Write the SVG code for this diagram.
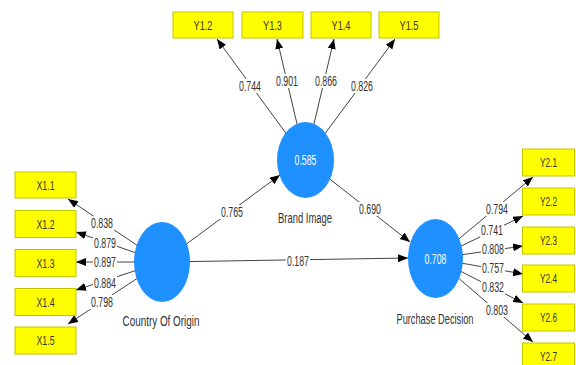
<svg xmlns="http://www.w3.org/2000/svg" width="576" height="365" viewBox="0 0 576 365">
<style>
.ln{stroke:#444;stroke-width:1;fill:none;marker-end:url(#ah)}
.bx{fill:#ffff00;stroke:#c4c400;stroke-width:1}
.bt{font-family:"Liberation Sans",Arial,sans-serif;font-size:13px;fill:#333;text-anchor:middle}
.lb{font-family:"Liberation Sans",Arial,sans-serif;font-size:14px;fill:#333;text-anchor:middle}
.lbg{fill:#fff}
.cv{fill:#1e90ff}
.ct{font-family:"Liberation Sans",Arial,sans-serif;font-size:14px;fill:#fff;text-anchor:middle}
.nt{font-family:"Liberation Sans",Arial,sans-serif;font-size:14px;fill:#333;text-anchor:middle}
</style>
<defs>
<marker id="ah" markerUnits="userSpaceOnUse" markerWidth="11" markerHeight="9" refX="10" refY="4" orient="auto">
<path d="M0,0 L10,4 L0,8 Z" fill="#000"/>
</marker>
</defs>
<rect width="576" height="365" fill="#fff"/>
<g id="connectors">
<line class="ln" x1="305.5" y1="160" x2="217" y2="39"/>
<line class="ln" x1="305.5" y1="160" x2="277" y2="39"/>
<line class="ln" x1="305.5" y1="160" x2="334" y2="39"/>
<line class="ln" x1="305.5" y1="160" x2="395" y2="39"/>
<line class="ln" x1="162" y1="262" x2="68" y2="199"/>
<line class="ln" x1="162" y1="262" x2="76" y2="232"/>
<line class="ln" x1="162" y1="262" x2="76" y2="262"/>
<line class="ln" x1="162" y1="262" x2="76" y2="290"/>
<line class="ln" x1="162" y1="262" x2="68" y2="324"/>
<line class="ln" x1="435.5" y1="258.5" x2="533" y2="177"/>
<line class="ln" x1="435.5" y1="258.5" x2="523" y2="216"/>
<line class="ln" x1="435.5" y1="258.5" x2="523" y2="246"/>
<line class="ln" x1="435.5" y1="258.5" x2="523" y2="274"/>
<line class="ln" x1="435.5" y1="258.5" x2="523" y2="303"/>
<line class="ln" x1="435.5" y1="258.5" x2="533" y2="342"/>
<line class="ln" x1="162" y1="262" x2="280" y2="175"/>
<line class="ln" x1="305.5" y1="160" x2="410" y2="242"/>
<line class="ln" x1="162" y1="262" x2="408" y2="258"/>
<g id="labels">
<rect class="lbg" x="238" y="79" width="24" height="14"/><text class="lb" x="250" y="91" textLength="22" lengthAdjust="spacingAndGlyphs">0.744</text>
<rect class="lbg" x="275" y="74" width="24" height="14"/><text class="lb" x="287" y="86" textLength="22" lengthAdjust="spacingAndGlyphs">0.901</text>
<rect class="lbg" x="314" y="74" width="24" height="14"/><text class="lb" x="326" y="86" textLength="22" lengthAdjust="spacingAndGlyphs">0.866</text>
<rect class="lbg" x="350" y="79" width="24" height="14"/><text class="lb" x="362" y="91" textLength="22" lengthAdjust="spacingAndGlyphs">0.826</text>
<rect class="lbg" x="90" y="216" width="24" height="14"/><text class="lb" x="102" y="228" textLength="22" lengthAdjust="spacingAndGlyphs">0.838</text>
<rect class="lbg" x="93" y="236" width="24" height="14"/><text class="lb" x="105" y="248" textLength="22" lengthAdjust="spacingAndGlyphs">0.879</text>
<rect class="lbg" x="93" y="255" width="24" height="14"/><text class="lb" x="105" y="267" textLength="22" lengthAdjust="spacingAndGlyphs">0.897</text>
<rect class="lbg" x="93" y="276" width="24" height="14"/><text class="lb" x="105" y="288" textLength="22" lengthAdjust="spacingAndGlyphs">0.884</text>
<rect class="lbg" x="90" y="295" width="24" height="14"/><text class="lb" x="102" y="307" textLength="22" lengthAdjust="spacingAndGlyphs">0.798</text>
<rect class="lbg" x="485" y="202" width="24" height="14"/><text class="lb" x="497" y="214" textLength="22" lengthAdjust="spacingAndGlyphs">0.794</text>
<rect class="lbg" x="480" y="223" width="24" height="14"/><text class="lb" x="492" y="235" textLength="22" lengthAdjust="spacingAndGlyphs">0.741</text>
<rect class="lbg" x="481" y="242" width="24" height="14"/><text class="lb" x="493" y="254" textLength="22" lengthAdjust="spacingAndGlyphs">0.808</text>
<rect class="lbg" x="481" y="261" width="24" height="14"/><text class="lb" x="493" y="273" textLength="22" lengthAdjust="spacingAndGlyphs">0.757</text>
<rect class="lbg" x="481" y="280" width="24" height="14"/><text class="lb" x="493" y="292" textLength="22" lengthAdjust="spacingAndGlyphs">0.832</text>
<rect class="lbg" x="485" y="303" width="24" height="14"/><text class="lb" x="497" y="315" textLength="22" lengthAdjust="spacingAndGlyphs">0.803</text>
<rect class="lbg" x="220" y="205" width="24" height="14"/><text class="lb" x="232" y="217" textLength="22" lengthAdjust="spacingAndGlyphs">0.765</text>
<rect class="lbg" x="358" y="202" width="24" height="14"/><text class="lb" x="370" y="214" textLength="22" lengthAdjust="spacingAndGlyphs">0.690</text>
<rect class="lbg" x="286" y="254" width="24" height="14"/><text class="lb" x="298" y="266" textLength="22" lengthAdjust="spacingAndGlyphs">0.187</text>
</g>
</g>
<g id="brand-image">
<ellipse class="cv" cx="305.5" cy="160" rx="28.5" ry="38"/>
<text class="ct" x="305.5" y="165" textLength="22" lengthAdjust="spacingAndGlyphs">0.585</text>
<text class="nt" x="305" y="223" textLength="54" lengthAdjust="spacingAndGlyphs">Brand Image</text>
</g>
<g id="country-of-origin">
<ellipse class="cv" cx="162" cy="262" rx="28" ry="40"/>
<text class="nt" x="161" y="326" textLength="77" lengthAdjust="spacingAndGlyphs">Country Of Origin</text>
</g>
<g id="purchase-decision">
<ellipse class="cv" cx="435.5" cy="258.5" rx="27.5" ry="39.5"/>
<text class="ct" x="435.5" y="263.5" textLength="22" lengthAdjust="spacingAndGlyphs">0.708</text>
<text class="nt" x="435" y="324" textLength="77" lengthAdjust="spacingAndGlyphs">Purchase Decision</text>
</g>
<g id="Y1.2"><rect class="bx" x="173" y="12" width="60" height="26"/><text class="bt" x="203" y="29.5" textLength="19" lengthAdjust="spacingAndGlyphs">Y1.2</text></g>
<g id="Y1.3"><rect class="bx" x="242" y="12" width="61" height="26"/><text class="bt" x="272.5" y="29.5" textLength="19" lengthAdjust="spacingAndGlyphs">Y1.3</text></g>
<g id="Y1.4"><rect class="bx" x="311" y="12" width="60" height="26"/><text class="bt" x="341" y="29.5" textLength="19" lengthAdjust="spacingAndGlyphs">Y1.4</text></g>
<g id="Y1.5"><rect class="bx" x="379" y="12" width="60" height="26"/><text class="bt" x="409" y="29.5" textLength="19" lengthAdjust="spacingAndGlyphs">Y1.5</text></g>
<g id="X1.1"><rect class="bx" x="15" y="172" width="61" height="26"/><text class="bt" x="45.5" y="189.5" textLength="18" lengthAdjust="spacingAndGlyphs">X1.1</text></g>
<g id="X1.2"><rect class="bx" x="15" y="210.5" width="61" height="27"/><text class="bt" x="45.5" y="228.5" textLength="18" lengthAdjust="spacingAndGlyphs">X1.2</text></g>
<g id="X1.3"><rect class="bx" x="15" y="249.5" width="61" height="27"/><text class="bt" x="45.5" y="267.5" textLength="18" lengthAdjust="spacingAndGlyphs">X1.3</text></g>
<g id="X1.4"><rect class="bx" x="15" y="288.5" width="61" height="27"/><text class="bt" x="45.5" y="306.5" textLength="18" lengthAdjust="spacingAndGlyphs">X1.4</text></g>
<g id="X1.5"><rect class="bx" x="15" y="327" width="61" height="27"/><text class="bt" x="45.5" y="345" textLength="18" lengthAdjust="spacingAndGlyphs">X1.5</text></g>
<g id="Y2.1"><rect class="bx" x="522.5" y="149" width="52" height="27"/><text class="bt" x="548.5" y="167" textLength="17" lengthAdjust="spacingAndGlyphs">Y2.1</text></g>
<g id="Y2.2"><rect class="bx" x="522.5" y="188" width="52" height="27"/><text class="bt" x="548.5" y="206" textLength="17" lengthAdjust="spacingAndGlyphs">Y2.2</text></g>
<g id="Y2.3"><rect class="bx" x="522.5" y="227" width="52" height="27"/><text class="bt" x="548.5" y="245" textLength="17" lengthAdjust="spacingAndGlyphs">Y2.3</text></g>
<g id="Y2.4"><rect class="bx" x="522.5" y="265" width="52" height="27"/><text class="bt" x="548.5" y="283" textLength="17" lengthAdjust="spacingAndGlyphs">Y2.4</text></g>
<g id="Y2.6"><rect class="bx" x="522.5" y="304" width="52" height="27"/><text class="bt" x="548.5" y="322" textLength="17" lengthAdjust="spacingAndGlyphs">Y2.6</text></g>
<g id="Y2.7"><rect class="bx" x="522.5" y="343" width="52" height="27"/><text class="bt" x="548.5" y="361" textLength="17" lengthAdjust="spacingAndGlyphs">Y2.7</text></g>
</svg>
